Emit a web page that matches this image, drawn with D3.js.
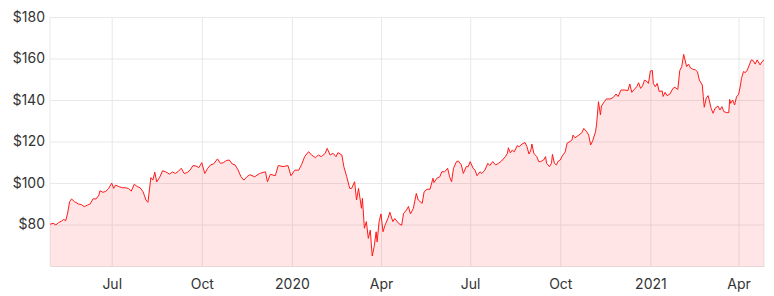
<!DOCTYPE html>
<html>
<head>
<meta charset="utf-8">
<script src="https://cdnjs.cloudflare.com/ajax/libs/d3/7.8.5/d3.min.js"></script>
<style>
	body { margin: 0; background: #fff; }
	#chart { width: 774px; height: 296px; }
	.axis text { font-family: "Inter", "Noto Sans", sans-serif; font-size: 14px; fill: #333; }
	.grid line { stroke: #e8e8e8; }
</style>
</head>
<body>
<div id="chart"></div>
<script>
// share price
var dates = [
	"2019-04-29","2019-05-02","2019-05-05","2019-05-08","2019-05-11","2019-05-13","2019-05-15","2019-05-17","2019-05-19","2019-05-21",
	"2019-05-24","2019-05-28","2019-05-31","2019-06-03","2019-06-06","2019-06-09","2019-06-12","2019-06-15","2019-06-18","2019-06-19",
	"2019-06-22","2019-06-25","2019-06-28","2019-07-01","2019-07-03","2019-07-05","2019-07-08","2019-07-12","2019-07-15","2019-07-18",
	"2019-07-21","2019-07-24","2019-07-27","2019-07-30","2019-08-02","2019-08-05","2019-08-07","2019-08-10","2019-08-12","2019-08-14",
	"2019-08-16","2019-08-19","2019-08-22","2019-08-25","2019-08-29","2019-09-01","2019-09-04","2019-09-07","2019-09-10","2019-09-13",
	"2019-09-16","2019-09-19","2019-09-22","2019-09-25","2019-09-28","2019-10-01","2019-10-04","2019-10-07","2019-10-10","2019-10-13",
	"2019-10-17","2019-10-20","2019-10-23","2019-10-26","2019-10-29","2019-11-01","2019-11-04","2019-11-07","2019-11-10","2019-11-13",
	"2019-11-16","2019-11-19","2019-11-24","2019-11-29","2019-12-05","2019-12-07","2019-12-10","2019-12-15","2019-12-18","2019-12-23",
	"2019-12-28","2019-12-31","2020-01-04","2020-01-08","2020-01-11","2020-01-14","2020-01-18","2020-01-21","2020-01-25","2020-01-28",
	"2020-01-31","2020-02-04","2020-02-06","2020-02-09","2020-02-12","2020-02-15","2020-02-17","2020-02-21","2020-02-23","2020-02-26",
	"2020-02-29","2020-03-02","2020-03-05","2020-03-07","2020-03-09","2020-03-12","2020-03-13","2020-03-15","2020-03-17","2020-03-19",
	"2020-03-21","2020-03-23","2020-03-25","2020-03-27","2020-03-28","2020-03-30","2020-04-01","2020-04-03","2020-04-05","2020-04-08",
	"2020-04-10","2020-04-13","2020-04-15","2020-04-19","2020-04-22","2020-04-24","2020-04-27","2020-04-29","2020-05-01","2020-05-04",
	"2020-05-07","2020-05-09","2020-05-13","2020-05-15","2020-05-18","2020-05-21","2020-05-24","2020-05-25","2020-05-28","2020-05-31",
	"2020-06-02","2020-06-05","2020-06-08","2020-06-10","2020-06-12","2020-06-14","2020-06-17","2020-06-19","2020-06-22","2020-06-24",
	"2020-06-27","2020-06-29","2020-07-01","2020-07-04","2020-07-06","2020-07-08","2020-07-11","2020-07-13","2020-07-16","2020-07-19",
	"2020-07-21","2020-07-24","2020-07-27","2020-07-30","2020-08-02","2020-08-06","2020-08-08","2020-08-09","2020-08-11","2020-08-13",
	"2020-08-15","2020-08-18","2020-08-20","2020-08-23","2020-08-26","2020-08-28","2020-08-30","2020-09-01","2020-09-02","2020-09-04",
	"2020-09-07","2020-09-09","2020-09-11","2020-09-14","2020-09-16","2020-09-17","2020-09-20","2020-09-22","2020-09-23","2020-09-25",
	"2020-09-27","2020-09-29","2020-10-01","2020-10-03","2020-10-06","2020-10-08","2020-10-11","2020-10-13","2020-10-14","2020-10-16",
	"2020-10-20","2020-10-23","2020-10-25","2020-10-28","2020-10-30","2020-11-01","2020-11-03","2020-11-06","2020-11-07","2020-11-09",
	"2020-11-11","2020-11-12","2020-11-15","2020-11-17","2020-11-21","2020-11-24","2020-11-27","2020-11-29","2020-12-02","2020-12-06",
	"2020-12-09","2020-12-11","2020-12-13","2020-12-15","2020-12-18","2020-12-20","2020-12-22","2020-12-24","2020-12-26","2020-12-28",
	"2020-12-30","2021-01-01","2021-01-03","2021-01-04","2021-01-06","2021-01-08","2021-01-10","2021-01-13","2021-01-14","2021-01-16",
	"2021-01-18","2021-01-21","2021-01-24","2021-01-26","2021-01-29","2021-01-31","2021-02-02","2021-02-04","2021-02-07","2021-02-09",
	"2021-02-11","2021-02-13","2021-02-16","2021-02-18","2021-02-20","2021-02-23","2021-02-24","2021-02-25","2021-02-27","2021-03-01",
	"2021-03-04","2021-03-06","2021-03-08","2021-03-11","2021-03-13","2021-03-15","2021-03-17","2021-03-20","2021-03-22","2021-03-23",
	"2021-03-24","2021-03-26","2021-03-28","2021-03-30","2021-04-01","2021-04-03","2021-04-04","2021-04-06","2021-04-08","2021-04-10",
	"2021-04-12","2021-04-14","2021-04-16","2021-04-18","2021-04-20","2021-04-23","2021-04-25","2021-04-27"
];
var prices = [
	80.1,80.6,79.8,81,81.7,82.5,81.8,85.5,91,92.3,
	91,89.9,89.6,88.6,89.3,89.9,92.4,92.3,94.2,96.3,
	95.5,96,97.4,100,97.4,99,98.3,97.7,97.7,97.4,
	96.1,99.4,98.3,97.7,95.8,91.8,90.7,102.6,101.4,105.2,
	100.5,102.8,105.9,105.4,104.3,105.3,104.6,105.6,107.1,104.6,
	105,106.2,108.4,108.2,107.4,109.8,104.6,107.1,108.7,109.2,
	111.6,109.5,109.8,110.8,111.1,109.2,108.7,106.3,103,101.4,
	103,104,103,104.6,105.4,100.6,104.2,103.5,108.4,107.9,
	108.4,103.5,106.2,106.2,109,112.7,115.1,113.5,112.2,113.5,
	112.7,114.3,116.7,113.5,114.3,112.7,114.6,113.5,107.9,103,
	97.4,97.4,100.6,91.8,97.4,87.8,92.6,78.2,81.4,73.3,
	77.3,64.8,69.4,76.5,71.6,81.4,85.1,76.5,79.6,82.9,
	85.9,81.4,82.9,80.5,79.6,85.3,87,88.7,85.1,87.8,
	95,91.8,90.2,95.8,97,97,102.3,100.2,102.3,103,
	105.4,105.4,107.1,103,100.6,107.1,110.3,110.6,108.7,104.6,
	107.9,107.9,110.3,107.1,106.2,103.5,105.4,104.6,106.2,109.5,
	108.4,110.3,108.7,109.5,110.6,112.7,114.3,117,114.5,115.9,
	115,118,117.5,118.8,119.5,117.5,114,115.9,118.8,114.3,
	112.7,110.3,110.3,111.1,112.7,109.5,107.9,109.5,113.8,109.5,
	108.7,110.6,111.1,113,115,119.2,120,120.8,123.1,121.8,
	123.1,124.2,126.3,124.7,123.1,118.3,120.3,124.7,128,139.2,
	132.8,137.1,139.2,140.5,140.5,141.2,142.9,141.7,144.8,144.8,
	144.5,147.7,143.7,144.8,146.4,148.3,145.6,146.8,149.6,149.1,
	148,154,154.2,148,146.4,148,144.1,144.4,141.7,143.7,
	142.1,142.9,145.6,146.1,145.1,154.2,156.1,162,156.1,157.3,
	155.4,154.9,154.5,153.7,149.6,147.2,141.7,136.5,140.9,142.1,
	136,133.6,136,137.1,135.2,136.8,134.4,133.9,133.9,140.3,
	138.4,140,137.6,141.7,142.5,147.2,150.4,153.7,153.2,154.5,
	156.9,159.3,159,157.3,159.3,156.9,158.5,159.3
];
var yTicks = [80, 100, 120, 140, 160, 180];
var xTicks = ["2019-07-01", "2019-10-01", "2020-01-01", "2020-04-01", "2020-07-01", "2020-10-01", "2021-01-01", "2021-04-01"];

function drawChart(elem) {
	var parse = d3.timeParse("%Y-%m-%d");
	var data = dates.map(function(d, i) {
		return { date: parse(d), close: prices[i] };
	});

	var margin = {top: 17, right: 10, bottom: 30, left: 50},
	    width = 774 - margin.left - margin.right,
	    height = 296 - margin.top - margin.bottom;

	var x = d3.scaleTime()
		.domain(d3.extent(data, function(d) { return d.date; }))
		.range([0, width]);
	var y = d3.scaleLinear()
		.domain([60, 180])
		.range([height, 0]);

	var svg = d3.select(elem).append("svg")
		.attr("width", width + margin.left + margin.right)
		.attr("height", height + margin.top + margin.bottom)
		.append("g")
		.attr("transform", "translate(" + margin.left + "," + margin.top + ")");

	var tickDates = xTicks.map(parse);

	// grid lines
	svg.append("g")
		.attr("class", "grid")
		.call(d3.axisLeft(y).tickValues(yTicks).tickSize(-width).tickFormat(""))
		.call(function(g) { g.select(".domain").remove(); });
	svg.append("g")
		.attr("class", "grid")
		.attr("transform", "translate(0," + height + ")")
		.call(d3.axisBottom(x).tickValues(tickDates).tickSize(-height).tickFormat(""))
		.call(function(g) { g.select(".domain").remove(); });
	// left and right border
	svg.append("g")
		.attr("class", "grid")
		.selectAll("line")
		.data([0, width])
		.enter().append("line")
		.attr("x1", function(d) { return d; })
		.attr("x2", function(d) { return d; })
		.attr("y1", 0)
		.attr("y2", height);

	// area + line
	var area = d3.area()
		.x(function(d) { return x(d.date); })
		.y0(height)
		.y1(function(d) { return y(d.close); });
	var line = d3.line()
		.x(function(d) { return x(d.date); })
		.y(function(d) { return y(d.close); });

	svg.append("path")
		.datum(data)
		.attr("fill", "#ff0000")
		.attr("fill-opacity", 0.1)
		.attr("d", area);
	svg.append("path")
		.datum(data)
		.attr("fill", "none")
		.attr("stroke", "#ff1a1a")
		.attr("stroke-width", 1)
		.attr("stroke-linejoin", "round")
		.attr("d", line);

	// axes
	svg.append("g")
		.attr("class", "axis axis--y")
		.call(d3.axisLeft(y).tickValues(yTicks).tickSize(0).tickPadding(5)
			.tickFormat(function(d) { return "$" + d; }))
		.call(function(g) { g.select(".domain").remove(); });

	var fmt = function(d) {
		return d.getMonth() == 0 ? d3.timeFormat("%Y")(d) : d3.timeFormat("%b")(d);
	};
	svg.append("g")
		.attr("class", "axis axis--x")
		.attr("transform", "translate(0," + height + ")")
		.call(d3.axisBottom(x).tickValues(tickDates).tickSize(0).tickPadding(13).tickFormat(fmt))
		.call(function(g) { g.select(".domain").attr("stroke", "#e6d6d6"); });
}

drawChart(document.getElementById("chart"));
</script>
</body>
</html>
